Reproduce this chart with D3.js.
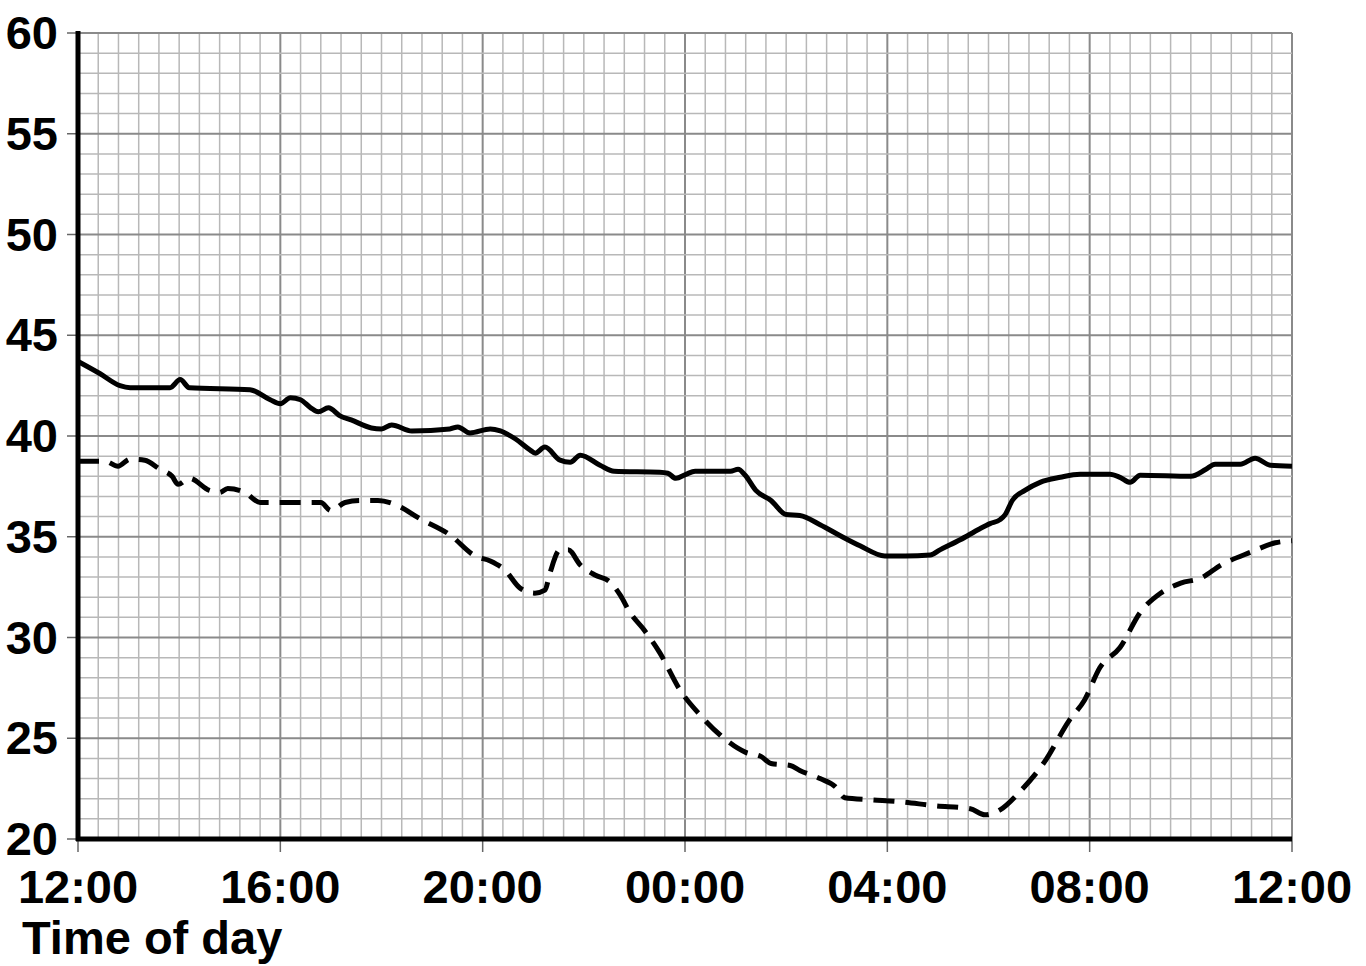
<!DOCTYPE html>
<html><head><meta charset="utf-8">
<script src="https://cdn.jsdelivr.net/npm/d3@7"></script>
<style>body{margin:0;background:#fff}svg{display:block}text{font-family:"Liberation Sans",Arial,sans-serif;font-weight:bold;fill:#000}</style>
</head><body>
<svg id="c" width="1366" height="966"></svg>
<script>
const xTickLabels = ["12:00","16:00","20:00","00:00","04:00","08:00","12:00"];
const yTicks = [20,25,30,35,40,45,50,55,60];
const xTitle = "Time of day";
// hours since 12:00
const solidHours = [0,0.43,0.83,1.03,1.82,2.02,2.2,3.4,3.8,4.0,4.2,4.4,4.6,4.75,4.95,5.18,5.4,5.8,6.0,6.2,6.6,7.35,7.51,7.75,8.15,8.35,8.65,8.94,9.04,9.23,9.53,9.73,9.93,10.32,10.6,11.5,11.66,11.82,12.02,12.2,12.9,13.05,13.19,13.4,13.7,14.0,14.27,14.67,15.07,15.46,15.95,16.35,16.85,17.04,17.44,17.83,18.03,18.23,18.33,18.47,18.72,19.02,19.42,19.81,20.4,20.6,20.8,21.0,22.0,22.3,22.48,22.98,23.27,23.57,24];
const solidValues = [43.7,43.1,42.5,42.4,42.4,42.8,42.4,42.3,41.8,41.6,41.9,41.8,41.4,41.2,41.4,41.0,40.8,40.4,40.35,40.55,40.25,40.35,40.45,40.15,40.35,40.25,39.85,39.3,39.15,39.45,38.8,38.7,39.05,38.55,38.25,38.2,38.15,37.9,38.1,38.25,38.25,38.35,38.05,37.3,36.8,36.1,36.05,35.6,35.05,34.55,34.05,34.05,34.1,34.35,34.85,35.4,35.65,35.85,36.1,36.8,37.3,37.7,37.95,38.1,38.1,37.95,37.7,38.05,38.0,38.35,38.6,38.6,38.9,38.55,38.5];
const dashedHours = [0,0.53,0.79,1.03,1.32,1.62,1.86,1.98,2.2,2.6,2.8,2.96,3.3,3.6,3.8,4.8,5.0,5.28,5.58,5.93,6.27,6.76,7.35,7.85,8.15,8.44,8.74,9.03,9.23,9.33,9.53,9.69,9.93,10.22,10.52,10.72,10.91,11.2,11.5,11.9,12.3,12.7,13.2,13.5,13.7,14.08,14.27,14.67,14.97,15.16,15.66,16.25,16.94,17.64,17.93,18.23,18.62,19.1,19.6,19.9,20.2,20.6,21.0,21.4,21.8,22.2,22.6,23.2,23.67,24];
const dashedValues = [38.75,38.75,38.5,38.85,38.8,38.35,38.0,37.6,37.9,37.3,37.2,37.4,37.2,36.7,36.7,36.7,36.3,36.7,36.8,36.8,36.6,35.9,35.1,34.05,33.8,33.35,32.45,32.2,32.35,33.2,34.35,34.35,33.6,33.1,32.75,32.1,31.25,30.35,29.25,27.4,26.15,25.15,24.3,24.1,23.75,23.65,23.4,23.0,22.6,22.05,21.95,21.85,21.65,21.5,21.2,21.45,22.35,23.8,25.9,26.9,28.5,29.5,31.25,32.2,32.7,32.95,33.6,34.25,34.7,34.8];

const svg = d3.select("#c");
const L = 78, R = 1292, T = 33, B = 839;
const x = d3.scaleLinear().domain([0,24]).range([L,R]);
const y = d3.scaleLinear().domain([20,60]).range([B,T]);

const g = svg.append("g");
const isMajX = d => Math.abs(d/4-Math.round(d/4))<1e-6;
g.selectAll(".vx").data(d3.range(0,24.001,0.4)).join("line")
  .attr("x1",d=>x(d)).attr("x2",d=>x(d)).attr("y1",T).attr("y2",B)
  .attr("stroke",d=>isMajX(d)?"#8a8a8a":"#b8b8b8")
  .attr("stroke-width",d=>isMajX(d)?2:1.5);
g.selectAll(".hy").data(d3.range(20,60.001,1)).join("line")
  .attr("y1",d=>y(d)).attr("y2",d=>y(d)).attr("x1",L).attr("x2",R)
  .attr("stroke",d=>d%5===0?"#8a8a8a":"#b8b8b8")
  .attr("stroke-width",d=>d%5===0?2:1.5);

svg.selectAll(".yt").data(yTicks).join("line")
  .attr("x1",67).attr("x2",L).attr("y1",d=>y(d)).attr("y2",d=>y(d))
  .attr("stroke","#666").attr("stroke-width",1.5);
svg.selectAll(".yl").data(yTicks).join("text")
  .attr("x",58).attr("y",d=>y(d)+16).attr("text-anchor","end")
  .attr("font-size",47).text(d=>d);

const xt = d3.range(0,24.001,4);
svg.selectAll(".xt").data(xt).join("line")
  .attr("x1",d=>x(d)).attr("x2",d=>x(d)).attr("y1",B).attr("y2",852)
  .attr("stroke","#666").attr("stroke-width",1.5);
svg.selectAll(".xl").data(xt).join("text")
  .attr("x",d=>x(d)).attr("y",903).attr("text-anchor","middle")
  .attr("font-size",47).text((d,i)=>xTickLabels[i]);
svg.append("text").attr("x",22).attr("y",954).attr("font-size",47).text(xTitle);

svg.append("line").attr("x1",L).attr("x2",L).attr("y1",T-2).attr("y2",B+2).attr("stroke","#000").attr("stroke-width",5);
svg.append("line").attr("x1",L-2).attr("x2",R).attr("y1",B).attr("y2",B).attr("stroke","#000").attr("stroke-width",5);

const line = d3.line().x(d=>x(d[0])).y(d=>y(d[1])).curve(d3.curveMonotoneX);
svg.append("path").attr("d",line(d3.zip(solidHours,solidValues)))
  .attr("fill","none").attr("stroke","#000").attr("stroke-width",5).attr("stroke-linejoin","round");
svg.append("path").attr("d",line(d3.zip(dashedHours,dashedValues)))
  .attr("fill","none").attr("stroke","#000").attr("stroke-width",5).attr("stroke-dasharray","21,11");
</script>
</body></html>
